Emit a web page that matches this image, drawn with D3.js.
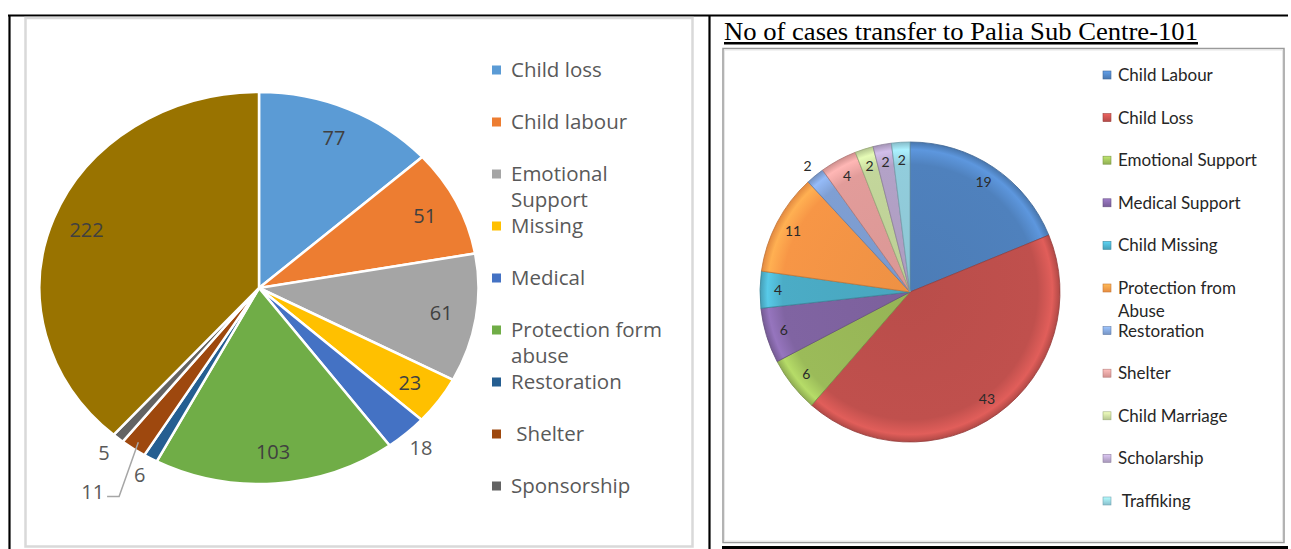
<!DOCTYPE html>
<html><head><meta charset="utf-8">
<script src="https://cdn.jsdelivr.net/npm/d3@7"></script>
<style>body{margin:0;background:#fff}svg{display:block}</style>
</head><body>
<svg id="c" width="1291" height="549"></svg>
<script>
// ---------- data ----------
const leftCategories = ["Child loss","Child labour","Emotional Support","Missing","Medical","Protection form abuse","Restoration"," Shelter","Sponsorship","Other"];
const leftValues = [77,51,61,23,18,103,6,11,5,222];
const leftColors = ["#5B9BD5","#ED7D31","#A5A5A5","#FFC000","#4472C4","#70AD47","#255E91","#9E480E","#636363","#997300"];
const leftLegendCount = 9; // the last entry is cut off by the frame

const rightTitle = "No of cases transfer to Palia Sub Centre-101";
const rightCategories = ["Child Labour","Child Loss","Emotional Support","Medical Support","Child Missing","Protection from Abuse","Restoration","Shelter","Child Marriage","Scholarship"," Traffiking"];
const rightValues = [19,43,6,6,4,11,2,4,2,2,2];
const rightColors = ["#4F81BD","#C0504D","#9BBB59","#8064A2","#4BACC6","#F79646","#7F9FD3","#E29C9A","#C3D69B","#B3A2C7","#92CDDC"];
const rightOutsideLabels = ["Restoration"];

// ---------- frame ----------
const svg = d3.select("#c");
svg.append("line").attr("x1",8).attr("x2",1288).attr("y1",15.5).attr("y2",15.5).attr("stroke","#000").attr("stroke-width",2.2);
svg.append("line").attr("x1",9.5).attr("x2",9.5).attr("y1",15).attr("y2",549).attr("stroke","#000").attr("stroke-width",2.2);
svg.append("line").attr("x1",709.5).attr("x2",709.5).attr("y1",15).attr("y2",549).attr("stroke","#000").attr("stroke-width",2.2);
svg.append("line").attr("x1",722).attr("x2",1288).attr("y1",547.5).attr("y2",547.5).attr("stroke","#000").attr("stroke-width",3);
svg.append("rect").attr("x",25.5).attr("y",18).attr("width",667).attr("height",528.5)
  .attr("fill","none").attr("stroke","#d9d9d9").attr("stroke-width",2.5);

// ---------- left pie ----------
const cxL = 259, cyL = 288, rL = 196, sx = 1.12;
const pie = d3.pie().sort(null).value(d => d.v);
const leftData = leftCategories.map((c,i)=>({c, v:leftValues[i], col:leftColors[i]}));
const arcsL = pie(leftData);
const totalL = d3.sum(leftValues);
const arcL = d3.arc().innerRadius(0).outerRadius(rL);
const gL = svg.append("g").attr("transform",`translate(${cxL},${cyL}) scale(${sx},1)`);
gL.selectAll("path").data(arcsL).join("path")
  .attr("d", arcL).attr("fill", d => d.data.col)
  .attr("stroke","#fff").attr("stroke-width",2.5).attr("vector-effect","non-scaling-stroke");

const posL = (a, rad) => [cxL + sx*rad*Math.sin(a), cyL - rad*Math.cos(a)];
const labelFontL = "'Open Sans', sans-serif";
let lastOutsideAngle = -10;
arcsL.forEach(d => {
  const mid = (d.startAngle + d.endAngle)/2;
  const inside = d.data.v/totalL >= 0.035;
  if (inside) {
    const [x,y] = posL(mid, rL*0.84);
    svg.append("text").attr("x",x).attr("y",y).attr("dy","0.35em").attr("text-anchor","middle")
      .attr("font-family",labelFontL).attr("font-size",20).attr("fill","#404040").text(d.data.v);
  } else {
    const crowded = (mid - lastOutsideAngle) < 0.12;
    if (!crowded) {
      lastOutsideAngle = mid;
      const [x,y] = posL(mid, rL*1.1);
      svg.append("text").attr("x",x).attr("y",y).attr("dy","0.35em").attr("text-anchor","middle")
        .attr("font-family",labelFontL).attr("font-size",20).attr("fill","#595959").text(d.data.v);
    } else {
      const [ex,ey] = posL(mid, rL*0.96);
      const [bx,by] = posL(mid - 0.07, rL*1.24);
      svg.append("polyline").attr("points",`${ex},${ey} ${bx},${by} ${bx-12},${by}`)
        .attr("fill","none").attr("stroke","#a6a6a6").attr("stroke-width",1.5);
      svg.append("text").attr("x",bx-15).attr("y",by-4).attr("dy","0.35em").attr("text-anchor","end")
        .attr("font-family",labelFontL).attr("font-size",20).attr("fill","#595959").text(d.data.v);
    }
  }
});

// left legend
function wrapWords(text, maxW, font) {
  const ctx = document.createElement("canvas").getContext("2d");
  ctx.font = font;
  const words = text.trim().split(" ");
  const lines = []; let cur = "";
  words.forEach(w => {
    const t = cur ? cur + " " + w : w;
    if (ctx.measureText(t).width > maxW && cur) { lines.push(cur); cur = w; } else cur = t;
  });
  lines.push(cur);
  if (text.startsWith(" ")) lines[0] = " " + lines[0];
  return lines;
}
const legL = svg.append("g");
leftData.slice(0, leftLegendCount).forEach((d,i) => {
  const y = 70 + i*52;
  legL.append("rect").attr("x",492).attr("y",y-4.5).attr("width",9).attr("height",9).attr("fill",d.col);
  const lines = wrapWords(d.c, 168, "20.5px 'Open Sans'");
  const t = legL.append("text").attr("x",511).attr("y",y)
    .attr("font-family",labelFontL).attr("font-size",20.5).attr("fill","#595959")
    .style("white-space","pre");
  lines.forEach((ln,j) => t.append("tspan").attr("x",511).attr("dy", j===0 ? "0.35em" : 26).text(ln));
});

// ---------- right panel ----------
svg.append("text").attr("x",724).attr("y",40).attr("font-family","'Liberation Serif','Times New Roman',serif")
  .attr("font-size",25).attr("fill","#000").attr("text-decoration","underline")
  .attr("textLength",474).attr("lengthAdjust","spacingAndGlyphs").text(rightTitle);
svg.append("rect").attr("x",723).attr("y",48.5).attr("width",561).attr("height",494)
  .attr("fill","#fff").attr("stroke","#9a9a9a").attr("stroke-width",1.5);
svg.append("rect").attr("x",724.5).attr("y",50).attr("width",558).attr("height",491)
  .attr("fill","none").attr("stroke","#e6e6e6").attr("stroke-width",1);

const cxR = 910, cyR = 292, rR = 150;
const rightData = rightCategories.map((c,i)=>({c, v:rightValues[i], col:rightColors[i]}));
const arcsR = pie(rightData);
const defs = svg.append("defs");
rightData.forEach((d,i) => {
  const g = defs.append("radialGradient").attr("id","rg"+i).attr("gradientUnits","userSpaceOnUse")
    .attr("cx",0).attr("cy",0).attr("r",rR);
  const c = d3.color(d.col);
  g.append("stop").attr("offset","0%").attr("stop-color",c.darker(0.1));
  g.append("stop").attr("offset","85%").attr("stop-color",c);
  g.append("stop").attr("offset","95%").attr("stop-color",c.brighter(0.45));
  g.append("stop").attr("offset","100%").attr("stop-color",c.darker(0.25));
  const lg = defs.append("linearGradient").attr("id","lg"+i).attr("x1",0).attr("y1",0).attr("x2",0).attr("y2",1);
  lg.append("stop").attr("offset","0%").attr("stop-color",c.brighter(0.6));
  lg.append("stop").attr("offset","100%").attr("stop-color",c.darker(0.2));
});
const arcR = d3.arc().innerRadius(0).outerRadius(rR);
const gR = svg.append("g").attr("transform",`translate(${cxR},${cyR})`);
gR.selectAll("path").data(arcsR).join("path")
  .attr("d",arcR).attr("fill",(d,i)=>`url(#rg${i})`)
  .attr("stroke",d=>d3.color(d.data.col).darker(0.7)).attr("stroke-width",0.8);

arcsR.forEach(d => {
  const mid = (d.startAngle + d.endAngle)/2;
  const outside = rightOutsideLabels.includes(d.data.c);
  const rad = outside ? rR*1.08 : rR*0.88;
  svg.append("text").attr("x",cxR + rad*Math.sin(mid)).attr("y",cyR - rad*Math.cos(mid)).attr("dy","0.35em")
    .attr("text-anchor","middle").attr("font-family","Lato, sans-serif").attr("font-size",14)
    .attr("fill","#2a2a2a").text(d.data.v);
});

const legR = svg.append("g");
rightData.forEach((d,i) => {
  const y = 75 + i*42.6;
  legR.append("rect").attr("x",1103).attr("y",y-4).attr("width",8).attr("height",8)
    .attr("fill",`url(#lg${i})`).attr("stroke",d3.color(d.col).darker(0.6)).attr("stroke-width",0.6);
  const lines = wrapWords(d.c, 158, "17px Lato");
  const t = legR.append("text").attr("x",1118).attr("y",y)
    .attr("font-family","Lato, sans-serif").attr("font-size",17).attr("fill","#262626")
    .style("white-space","pre");
  lines.forEach((ln,j) => t.append("tspan").attr("x",1118).attr("dy", j===0 ? "0.35em" : 23).text(ln));
});
</script>
</body></html>
